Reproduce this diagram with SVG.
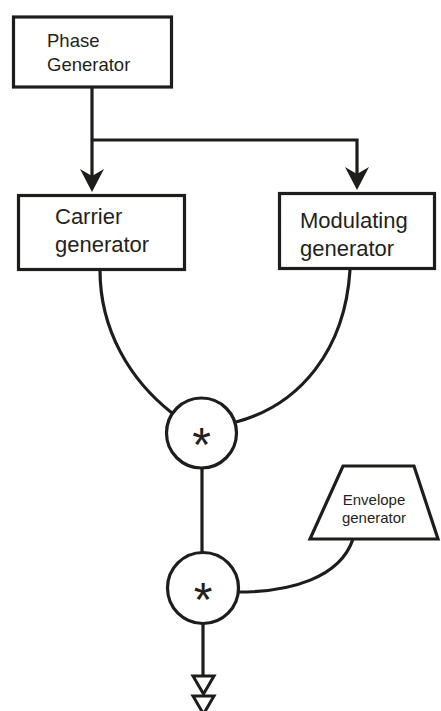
<svg xmlns="http://www.w3.org/2000/svg" width="441" height="711" viewBox="0 0 441 711">
<style>
.box{fill:#fff;stroke:#1d1d1b;stroke-width:3.2}
.ln{fill:none;stroke:#1d1d1b;stroke-width:3.2}
.t{font-family:"Liberation Sans",Arial,sans-serif;fill:#231f20}
.tri{fill:#fff;stroke:#1d1d1b;stroke-width:3}
</style>
<defs>
<marker id="ah" markerUnits="userSpaceOnUse" viewBox="-26 -14 28 28" markerWidth="28" markerHeight="28" refX="-8" refY="0" orient="auto">
<path d="M0,0 L-23,-12 L-16,0 L-23,12 Z" fill="#1d1d1b"/>
</marker>
</defs>
<g id="connectors">
<path class="ln" d="M92,88 V184" marker-end="url(#ah)"/>
<path class="ln" d="M92,140 H357 V182" marker-end="url(#ah)"/>
<path class="ln" d="M100,270 C100,330 130,380 172,413"/>
<path class="ln" d="M350,270 C345,350 300,405 236,422"/>
<path class="ln" d="M202,468 V552"/>
<path class="ln" d="M353,539 C340,578 290,592 239,592"/>
<path class="ln" d="M203,623 V676"/>
<polygon class="tri" points="193,676 214,676 203.5,694"/>
<polygon class="tri" points="193,696 214,696 203.5,714"/>
</g>
<g id="phase">
<rect class="box" x="13.5" y="17" width="158" height="70"/>
<text class="t" x="47" y="47" font-size="18.5">Phase</text>
<text class="t" x="47" y="71" font-size="18.5">Generator</text>
</g>
<g id="carrier">
<rect class="box" x="18.5" y="195.5" width="166" height="74"/>
<text class="t" x="55" y="224" font-size="22">Carrier</text>
<text class="t" x="55" y="252" font-size="22">generator</text>
</g>
<g id="modulating">
<rect class="box" x="279.5" y="193.5" width="155" height="75"/>
<text class="t" x="300" y="228" font-size="22">Modulating</text>
<text class="t" x="300" y="256" font-size="22">generator</text>
</g>
<g id="mult1">
<circle class="box" cx="201.5" cy="433" r="35"/>
<text class="t" x="201.5" y="461" font-size="48" text-anchor="middle">*</text>
</g>
<g id="mult2">
<circle class="box" cx="203" cy="588" r="35.5"/>
<text class="t" x="203" y="616" font-size="48" text-anchor="middle">*</text>
</g>
<g id="envelope">
<polygon class="box" points="343,466 414,466 438,539 310,539"/>
<text class="t" x="374" y="505" font-size="15" text-anchor="middle">Envelope</text>
<text class="t" x="374" y="523" font-size="15" text-anchor="middle">generator</text>
</g>
</svg>
